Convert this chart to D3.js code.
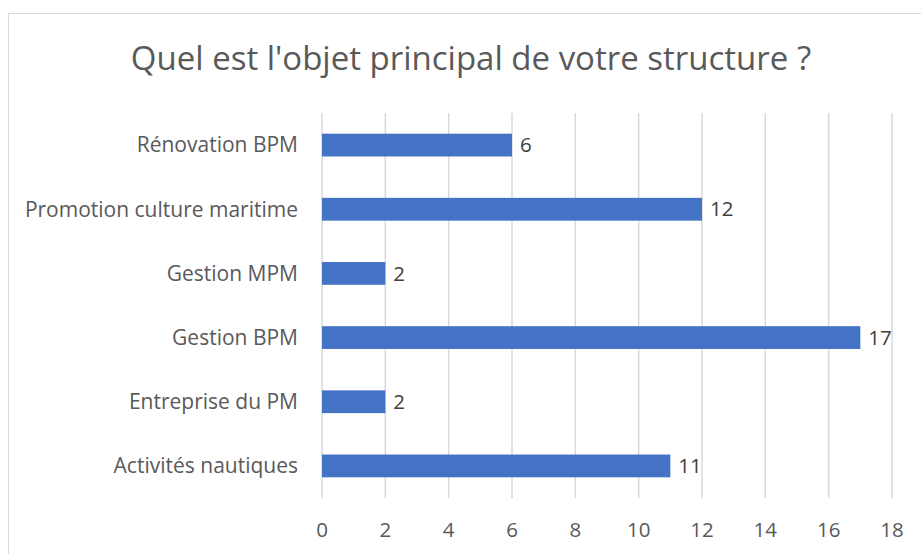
<!DOCTYPE html>
<html>
<head>
<meta charset="utf-8">
<script src="https://cdn.jsdelivr.net/npm/d3@7"></script>
<style>
  body { margin: 0; background: #fff; }
  text { font-family: "Open Sans", sans-serif; }
</style>
</head>
<body>
<svg id="chart"></svg>
<script>
const width = 921;
const height = 554;

const categories = ["Rénovation BPM", "Promotion culture maritime", "Gestion MPM", "Gestion BPM", "Entreprise du PM", "Activités nautiques"];
const values = [6, 12, 2, 17, 2, 11];
const ticks = [0, 2, 4, 6, 8, 10, 12, 14, 16, 18];
const title = "Quel est l'objet principal de votre structure ?";

const margin = {top: 113, right: 29, bottom: 56, left: 322};

const svg = d3.select("#chart")
    .attr("width", width)
    .attr("height", height);

// chart frame
svg.append("rect")
    .attr("x", 8.5)
    .attr("y", 13.5)
    .attr("width", 930)
    .attr("height", 560)
    .attr("fill", "none")
    .attr("stroke", "#d9d9d9");

svg.append("text")
    .attr("x", 471)
    .attr("y", 70)
    .attr("text-anchor", "middle")
    .attr("font-size", 33)
    .attr("fill", "#595959")
    .text(title);

const x = d3.scaleLinear()
    .domain([0, 18])
    .range([margin.left, width - margin.right]);

const y = d3.scaleBand()
    .domain(categories)
    .range([margin.top, height - margin.bottom])
    .paddingInner(0.645)
    .paddingOuter(0.3225);

// Gridlines
svg.append("g")
    .selectAll("line")
    .data(ticks)
    .join("line")
    .attr("x1", d => x(d))
    .attr("x2", d => x(d))
    .attr("y1", margin.top)
    .attr("y2", height - margin.bottom)
    .attr("stroke", "#d9d9d9")
    .attr("stroke-width", 1.5);

// Tick labels
svg.append("g")
    .selectAll("text")
    .data(ticks)
    .join("text")
    .attr("x", d => x(d))
    .attr("y", 530)
    .attr("dy", "0.35em")
    .attr("text-anchor", "middle")
    .attr("font-size", 20.5)
    .attr("fill", "#595959")
    .text(d => d);

// Category labels
svg.append("g")
    .selectAll("text")
    .data(categories)
    .join("text")
    .attr("x", margin.left - 24)
    .attr("y", d => y(d) + y.bandwidth() / 2)
    .attr("dy", "0.35em")
    .attr("text-anchor", "end")
    .attr("font-size", 21)
    .attr("fill", "#595959")
    .text(d => d);

// Bars
svg.append("g")
    .selectAll("rect")
    .data(values)
    .join("rect")
    .attr("x", x(0))
    .attr("y", (d, i) => y(categories[i]))
    .attr("width", d => x(d) - x(0))
    .attr("height", y.bandwidth())
    .attr("fill", "#4472c4");

// Data labels
svg.append("g")
    .selectAll("text")
    .data(values)
    .join("text")
    .attr("x", d => x(d) + 8)
    .attr("y", (d, i) => y(categories[i]) + y.bandwidth() / 2)
    .attr("dy", "0.35em")
    .attr("font-size", 20.5)
    .attr("fill", "#404040")
    .text(d => d);
</script>
</body>
</html>
